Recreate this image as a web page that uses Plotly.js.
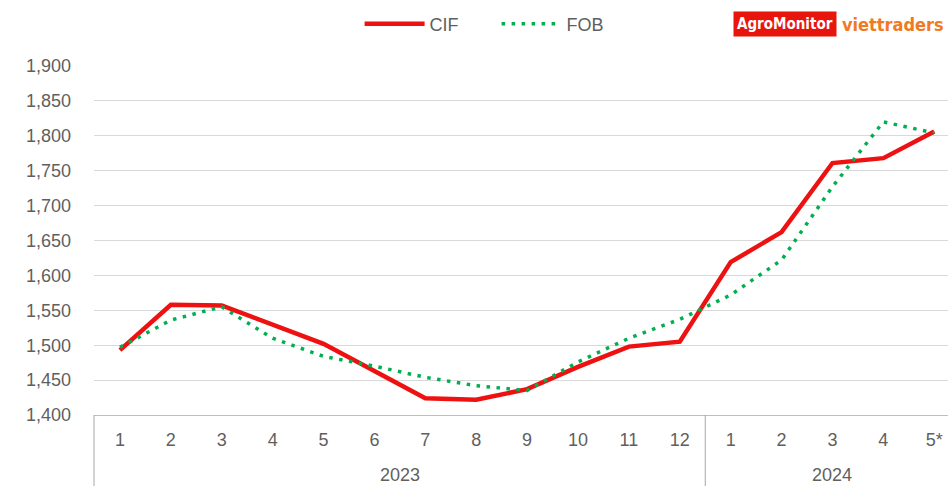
<!DOCTYPE html>
<html>
<head>
<meta charset="utf-8">
<script src="https://cdn.plot.ly/plotly-3.0.1.min.js"></script>
<style>html,body{margin:0;padding:0;background:#fff;}#chart{width:948px;height:486px;}</style>
</head>
<body>
<div id="chart"></div>
<script>
const years = ["2023","2023","2023","2023","2023","2023","2023","2023","2023","2023","2023","2023","2024","2024","2024","2024","2024"];
const months = ["1","2","3","4","5","6","7","8","9","10","11","12","1","2","3","4","5*"];
const cif = [1493,1558,1557,1529,1502,1463,1424,1422,1437,1469,1498,1505,1619,1662,1761,1768,1806];
const fob = [1497,1536,1555,1510,1484,1470,1454,1442,1435,1476,1510,1537,1572,1622,1727,1820,1804];
const yTicks = [1400,1450,1500,1550,1600,1650,1700,1750,1800,1850,1900];

const txtColor = '#5f5f5f';
const fontFam = '"Liberation Sans", Arial, sans-serif';
const logoFam = '"DejaVu Sans Condensed", "DejaVu Sans", sans-serif';

// unique category keys built from the two label arrays
const keys = years.map((y, i) => y + '-' + months[i]);

const traces = [
  {x:keys, y:cif, name:'CIF', type:'scatter', mode:'lines',
   line:{color:'#ee1111', width:4.5}},
  {x:keys, y:fob, name:'FOB', type:'scatter', mode:'lines',
   line:{color:'#00b050', width:3.5, dash:'3.5px,6.5px'}}
];

// year groups: label centres and boundaries
const groups = [];
years.forEach((y, i) => {
  if (!groups.length || groups[groups.length-1].year !== y) groups.push({year:y, start:i, end:i});
  else groups[groups.length-1].end = i;
});

const annotations = groups.map(g => ({
  xref:'x', yref:'paper', x:(g.start + g.end) / 2, y:-0.172, xanchor:'center', yanchor:'middle',
  text:g.year, showarrow:false, font:{size:18, color:txtColor}
}));
annotations.push(
  {xref:'paper', yref:'paper', x:0.748, y:1.119, xanchor:'left', yanchor:'middle',
   text:'<b>AgroMonitor</b>', showarrow:false, bgcolor:'#e8150d',
   font:{family:logoFam, size:15, color:'#ffffff'}, borderpad:3},
  {xref:'paper', yref:'paper', x:0.8735, y:1.119, xanchor:'left', yanchor:'middle',
   text:'<b>viettraders</b>', showarrow:false,
   font:{family:logoFam, size:18, color:'#f07a22'}}
);

const shapes = [{type:'line', xref:'paper', yref:'paper', x0:0, x1:0, y0:0, y1:-0.21,
                 line:{color:'#a6a6a6', width:1}}];
groups.slice(1).forEach(g => shapes.push({type:'line', xref:'x', yref:'paper',
  x0:g.start - 0.5, x1:g.start - 0.5, y0:0, y1:-0.21, line:{color:'#a6a6a6', width:1}}));

const layout = {
  width:948, height:486,
  margin:{l:94, r:0, t:66, b:71},
  paper_bgcolor:'#fff', plot_bgcolor:'#fff',
  font:{family:fontFam, color:txtColor, size:18},
  showlegend:true,
  legend:{orientation:'h', x:0.311, xanchor:'left', y:1.12, yanchor:'middle',
          font:{size:18, color:txtColor}, itemwidth:60, entrywidth:62, entrywidthmode:'pixels'},
  xaxis:{type:'category', range:[-0.51, 16.27], showgrid:false,
         tickvals:keys, ticktext:months,
         showline:true, linecolor:'#bfbfbf', linewidth:1,
         tickfont:{size:18, color:txtColor}, ticks:'', ticklabelstandoff:8},
  yaxis:{range:[1400,1900], tickvals:yTicks, tickformat:',', showgrid:true,
         gridcolor:'#d9d9d9', gridwidth:1, zeroline:false, showline:false, ticks:'',
         tickfont:{size:18, color:txtColor}, ticklabelstandoff:22},
  annotations:annotations,
  shapes:shapes
};

Plotly.newPlot('chart', traces, layout, {displayModeBar:false, staticPlot:true});
</script>
</body>
</html>
